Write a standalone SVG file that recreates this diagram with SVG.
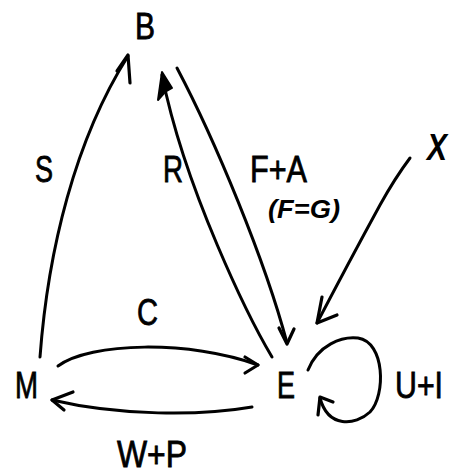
<svg xmlns="http://www.w3.org/2000/svg" width="451" height="474" viewBox="0 0 451 474">
<style>
.lbl{font-family:"Liberation Sans",Arial,sans-serif;font-size:36px;fill:#000;stroke:#000;stroke-width:0.8px}
.hand{font-family:"Liberation Sans",Arial,sans-serif;font-style:italic;font-weight:bold;fill:#000}
.ln{fill:none;stroke:#000;stroke-width:3;stroke-linecap:round;stroke-linejoin:round}
.hd{fill:none;stroke:#000;stroke-width:3.2;stroke-linecap:round;stroke-linejoin:round}
</style>
<rect width="451" height="474" fill="#fff"/>
<g id="node-B"><text class="lbl" x="135" y="39" textLength="20" lengthAdjust="spacingAndGlyphs">B</text></g>
<g id="node-M"><text class="lbl" x="15" y="398" textLength="23" lengthAdjust="spacingAndGlyphs">M</text></g>
<g id="node-E"><text class="lbl" x="277" y="398" textLength="18" lengthAdjust="spacingAndGlyphs">E</text></g>
<g id="node-X"><text class="hand" x="427" y="160" font-size="36" font-weight="normal" textLength="20" lengthAdjust="spacingAndGlyphs">X</text></g>
<g id="connectors">
  <g id="edge-S">
    <path class="ln" d="M40,357 C48,250 75,140 128,56"/>
    <path class="hd" d="M117,71 L128,55 L130,83"/>
    <text class="lbl" x="35" y="182" textLength="18" lengthAdjust="spacingAndGlyphs">S</text>
  </g>
  <g id="edge-R">
    <path class="ln" d="M272,357 C250,320 185,190 162,75"/>
    <path d="M162,72 L158,100 L165,92 L172,88 Z" fill="#000" stroke="#000" stroke-width="2" stroke-linejoin="round"/>
    <text class="lbl" x="163" y="182" textLength="20" lengthAdjust="spacingAndGlyphs">R</text>
  </g>
  <g id="edge-FA">
    <path class="ln" d="M177,68 C215,140 265,260 287,343"/>
    <path class="hd" d="M279,328 L287,344 L294,329"/>
    <text class="lbl" x="250" y="182" textLength="57" lengthAdjust="spacingAndGlyphs">F+A</text>
    <text class="hand" x="268" y="218" font-size="25" textLength="72" lengthAdjust="spacingAndGlyphs">(F=G)</text>
  </g>
  <g id="edge-X">
    <path class="ln" d="M410,158 Q395,178 380,205 Q350,260 317,323"/>
    <path class="hd" d="M322,297 L317,323 L337,315"/>
  </g>
  <g id="edge-C">
    <path class="ln" d="M58,366 C90,342 190,340 258,365"/>
    <path class="hd" d="M245,357 L258,365 L245,373"/>
    <text class="lbl" x="137" y="325" textLength="21" lengthAdjust="spacingAndGlyphs">C</text>
  </g>
  <g id="edge-WP">
    <path class="ln" d="M252,407 C200,416 120,416 52,400"/>
    <path class="hd" d="M73,392 L52,400 L64,410"/>
    <text class="lbl" x="117" y="467" font-size="33" textLength="70" lengthAdjust="spacingAndGlyphs">W+P</text>
  </g>
  <g id="edge-UI">
    <path class="ln" d="M308,370 C318,345 342,336 358,338 C385,342 386,395 370,412 C355,426 328,428 320,398"/>
    <path class="hd" d="M318,415 L320,397 L333,402"/>
    <text class="lbl" x="395" y="398" textLength="48" lengthAdjust="spacingAndGlyphs">U+I</text>
  </g>
</g>
</svg>
